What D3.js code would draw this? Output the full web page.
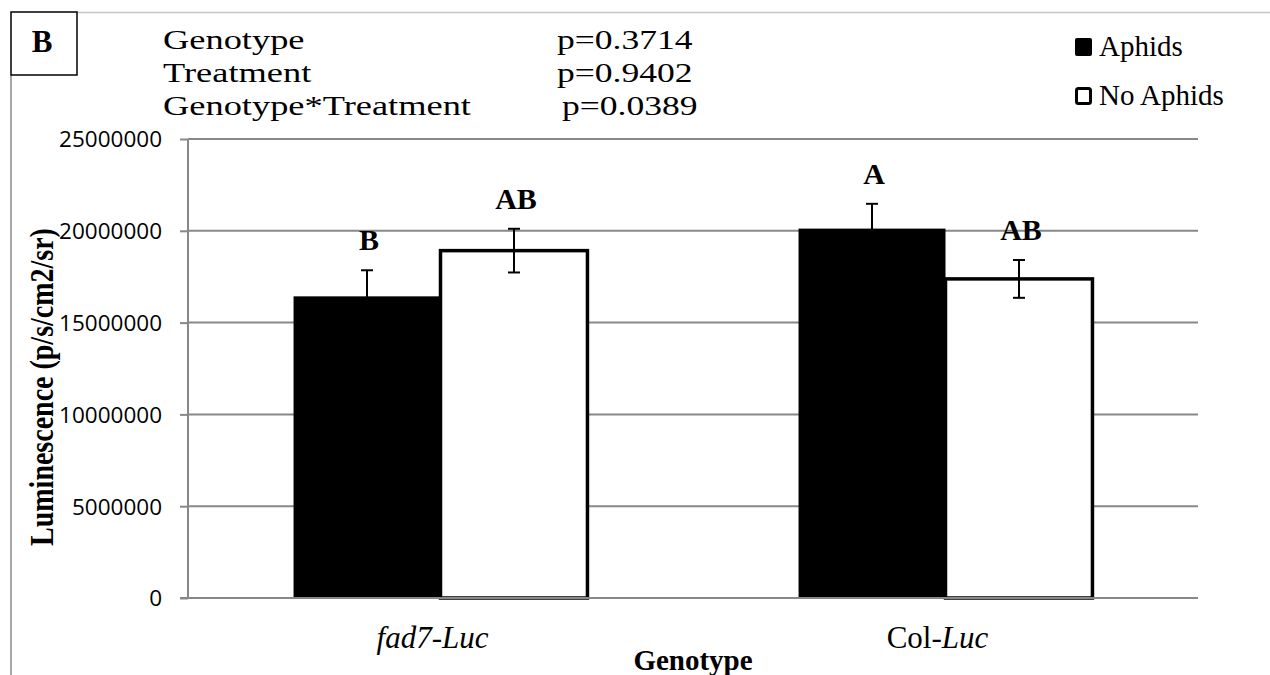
<!DOCTYPE html>
<html>
<head>
<meta charset="utf-8">
<script src="https://cdn.jsdelivr.net/npm/d3@7"></script>
<style>
  body { margin: 0; background: #fff; }
  svg { display: block; }
  .serif { font-family: "Liberation Serif", "Times New Roman", serif; }
</style>
</head>
<body>
<svg id="chart" width="1270" height="675"></svg>
<script>
const genotypes = ["fad7-Luc", "Col-Luc"];
const treatments = ["Aphids", "No Aphids"];
const aphidsMean = [16430000, 20120000];
const noAphidsMean = [18920000, 17380000];
const aphidsErr = [1420000, 1350000];
const noAphidsErr = [1190000, 1030000];
const aphidsLetters = ["B", "A"];
const noAphidsLetters = ["AB", "AB"];
const yTicks = [0, 5000000, 10000000, 15000000, 20000000, 25000000];
const statTerms = ["Genotype", "Treatment", "Genotype*Treatment"];
const statP = ["p=0.3714", "p=0.9402", "p=0.0389"];

// rows built from the arrays above
const rows = [];
genotypes.forEach((g, i) => {
    rows.push({ g: g, t: treatments[0], v: aphidsMean[i], e: aphidsErr[i], l: aphidsLetters[i] });
    rows.push({ g: g, t: treatments[1], v: noAphidsMean[i], e: noAphidsErr[i], l: noAphidsLetters[i] });
});

const svg = d3.select("#chart");
const margin = { top: 139, right: 72, bottom: 77, left: 188 };
const width = 1270 - margin.left - margin.right;
const height = 675 - margin.top - margin.bottom;

const x0 = d3.scaleBand()
    .domain(genotypes)
    .range([0, width])
    .paddingInner(0.418)
    .paddingOuter(0.209);
const x1 = d3.scaleBand()
    .domain(treatments)
    .range([0, x0.bandwidth()]);
const y = d3.scaleLinear()
    .domain([0, 25000000])
    .range([height, 0]);

// outer frame pieces
svg.append("line")
    .attr("x1", 77).attr("x2", 1270).attr("y1", 12.5).attr("y2", 12.5)
    .attr("stroke", "#c4c4c4").attr("stroke-width", 1.5);
svg.append("line")
    .attr("x1", 11).attr("x2", 11).attr("y1", 75).attr("y2", 675)
    .attr("stroke", "#8a8a8a").attr("stroke-width", 1.5);
svg.append("rect")
    .attr("x", 11).attr("y", 12).attr("width", 66).attr("height", 63)
    .attr("fill", "#fff").attr("stroke", "#000").attr("stroke-width", 1.5);
svg.append("text").attr("class", "serif")
    .attr("x", 42).attr("y", 52)
    .attr("text-anchor", "middle")
    .attr("font-size", 31).attr("font-weight", "bold")
    .text("B");

// stats text (stretched horizontally like the original)
const stats = svg.append("g");
statTerms.forEach((s, i) => {
    const yy = 49 + i * 33;
    stats.append("text").attr("class", "serif")
        .attr("transform", "translate(163," + yy + ") scale(1.3,1)")
        .attr("font-size", 28)
        .text(s);
    stats.append("text").attr("class", "serif")
        .attr("transform", "translate(" + (i === 2 ? 562 : 557) + "," + yy + ") scale(1.27,1)")
        .attr("font-size", 28)
        .text(statP[i]);
});

// legend
const legend = svg.append("g");
treatments.forEach((t, i) => {
    const ly = 38 + i * 49;
    legend.append("rect")
        .attr("x", i === 0 ? 1075 : 1076.5).attr("y", i === 0 ? ly : ly + 1.5)
        .attr("width", i === 0 ? 17 : 14).attr("height", i === 0 ? 18 : 15)
        .attr("rx", 2)
        .attr("fill", i === 0 ? "#000" : "#fff")
        .attr("stroke", "#000").attr("stroke-width", i === 0 ? 0 : 3);
    legend.append("text").attr("class", "serif")
        .attr("x", 1099).attr("y", ly + 18)
        .attr("font-size", 29)
        .text(t);
});

const g = svg.append("g")
    .attr("transform", "translate(" + margin.left + "," + margin.top + ")");

// gridlines
g.append("g")
    .selectAll("line")
    .data(yTicks.slice(1))
    .enter().append("line")
    .attr("x1", 0).attr("x2", width)
    .attr("y1", d => y(d)).attr("y2", d => y(d))
    .attr("stroke", "#888").attr("stroke-width", 2);

// y axis
const yAxis = g.append("g")
    .call(d3.axisLeft(y).tickValues(yTicks).tickSize(8).tickPadding(18).tickFormat(d3.format("d")));
yAxis.select(".domain").attr("stroke", "#888").attr("stroke-width", 2).attr("d", "M0," + height + "V0");
yAxis.selectAll(".tick line").attr("stroke", "#888").attr("stroke-width", 2);
yAxis.selectAll(".tick text")
    .attr("fill", "#000")
    .attr("font-family", "'Open Sans', sans-serif")
    .attr("font-size", 22.5)
    .attr("dy", "0.35em");

// bars
const groups = g.selectAll(".grp")
    .data(genotypes)
    .enter().append("g")
    .attr("class", "grp")
    .attr("transform", d => "translate(" + x0(d) + ",0)");

groups.selectAll("rect")
    .data(d => rows.filter(r => r.g === d))
    .enter().append("rect")
    .attr("x", d => x1(d.t))
    .attr("y", d => y(d.v))
    .attr("width", x1.bandwidth())
    .attr("height", d => height - y(d.v))
    .attr("fill", d => d.t === treatments[0] ? "#000" : "#fff")
    .attr("stroke", "#000")
    .attr("stroke-width", d => d.t === treatments[0] ? 0 : 3.5);

// x axis line (drawn over bar bottoms)
g.append("line")
    .attr("x1", -8).attr("x2", width)
    .attr("y1", height).attr("y2", height)
    .attr("stroke", "#888").attr("stroke-width", 2);

// error bars
const eb = groups.selectAll(".eb")
    .data(d => rows.filter(r => r.g === d))
    .enter().append("g")
    .attr("class", "eb")
    .attr("transform", d => "translate(" + (x1(d.t) + x1.bandwidth() / 2) + ",0)");
eb.append("line")
    .attr("x1", 0).attr("x2", 0)
    .attr("y1", d => y(d.v + d.e)).attr("y2", d => y(d.v - d.e))
    .attr("stroke", "#000").attr("stroke-width", 2);
eb.append("line")
    .attr("x1", -6).attr("x2", 6)
    .attr("y1", d => y(d.v + d.e)).attr("y2", d => y(d.v + d.e))
    .attr("stroke", "#000").attr("stroke-width", 2);
eb.append("line")
    .attr("x1", -6).attr("x2", 6)
    .attr("y1", d => y(d.v - d.e)).attr("y2", d => y(d.v - d.e))
    .attr("stroke", "#000").attr("stroke-width", 2);

// significance letters
eb.append("text").attr("class", "serif")
    .attr("x", 2)
    .attr("y", d => y(d.v + d.e) - 20)
    .attr("text-anchor", "middle")
    .attr("font-size", 30).attr("font-weight", "bold")
    .text(d => d.l);

// category labels
const catLabels = g.selectAll(".cat")
    .data(genotypes)
    .enter().append("text")
    .attr("class", "serif cat")
    .attr("x", d => x0(d) + x0.bandwidth() / 2 - 8)
    .attr("y", height + 50)
    .attr("text-anchor", "middle")
    .attr("font-size", 31);
catLabels.each(function(d) {
    const el = d3.select(this);
    const parts = d.split("-");
    if (parts[0] === "Col") {
        el.append("tspan").text(parts[0] + "-");
        el.append("tspan").attr("font-style", "italic").text(parts[1]);
    } else {
        el.append("tspan").attr("font-style", "italic").text(d);
    }
});

// axis titles
g.append("text").attr("class", "serif")
    .attr("x", width / 2).attr("y", height + 72)
    .attr("text-anchor", "middle")
    .attr("font-size", 29).attr("font-weight", "bold")
    .text("Genotype");

svg.append("text").attr("class", "serif")
    .attr("transform", "translate(53,387) scale(1.2,1) rotate(-90)")
    .attr("text-anchor", "middle")
    .attr("font-size", 28).attr("font-weight", "bold")
    .text("Luminescence (p/s/cm2/sr)");
</script>
</body>
</html>
